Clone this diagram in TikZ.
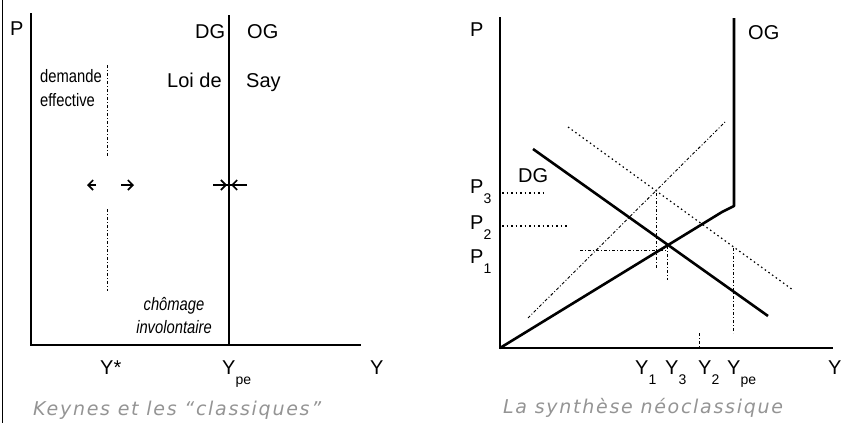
\documentclass[tikz,border=0pt]{standalone}
\usepackage{fontspec}
\setmainfont{Liberation Sans}
\newfontfamily\narrowfont[FakeStretch=0.82]{Liberation Sans}
\newfontfamily\capfont[LetterSpace=9]{DejaVu Sans}
\usetikzlibrary{arrows.meta}

\newcommand{\idx}[2]{#1\raisebox{-0.5em}{\fontsize{14}{14}\selectfont #2}}

\begin{document}
\begin{tikzpicture}[
        x=1pt,
        y=-1pt,
        frame/.style={line width=1.2pt},
        axis/.style={line width=2pt},
        curve/.style={line width=2.6pt, line join=round},
        guide/.style={line width=0.9pt, dash pattern=on 3pt off 2pt on 1pt off 2pt},
        dots/.style={line width=1.2pt, dash pattern=on 1.5pt off 3pt},
        lab/.style={font=\fontsize{20}{22}\selectfont, inner sep=0pt},
        note/.style={font=\narrowfont\fontsize{18}{24}\selectfont, inner sep=0pt},
        caption/.style={font=\capfont\itshape\fontsize{19}{22}\selectfont, text=black!42, inner sep=0pt},
        push/.style={->, line width=1.6pt},
        >={Straight Barb[length=5pt,width=10pt]}
    ]
        \useasboundingbox (0,0) rectangle (845,423);
        \draw[frame] (2.5,0) -- (2.5,423);

        % Keynes et les classiques
        \coordinate (o1) at (31,345);
        \coordinate (p1top) at (31,13);
        \coordinate (y1end) at (361,345);
        \draw[axis] (p1top) -- (o1) -- (y1end);
        \coordinate (say0) at (229,345);
        \coordinate (say1) at (229,15);
        \draw[curve] (say0) -- (say1);
        \coordinate (de0) at (107,65);
        \coordinate (de1) at (107,157);
        \coordinate (de2) at (107,209);
        \coordinate (de3) at (107,291);
        \draw[guide] (de0) -- (de1);
        \draw[guide] (de2) -- (de3);
        \draw[push] (96,185) -- (87,185);
        \draw[push] (121,185) -- (134,185);
        \draw[line width=1.2pt] (213,185) -- (247,185);
        \draw[push] (213,185) -- (227,185);
        \draw[push] (247,185) -- (231,185);

        \node[lab, anchor=base west] (pa) at (10,35) {P};
        \node[lab, anchor=base west] (dga) at (195,38) {DG};
        \node[lab, anchor=base west] (oga) at (247,38) {OG};
        \node[lab, anchor=base west] (loi) at (167,87) {Loi de};
        \node[lab, anchor=base west] (say) at (246,87) {Say};
        \node[note, anchor=north west, align=left] (demande) at (40,69) {demande\\effective};
        \node[note, anchor=north, align=center, font=\narrowfont\itshape\fontsize{18}{23}\selectfont] (chomage) at (174,297) {chômage\\involontaire};
        \node[lab, anchor=base west] (ystar) at (100,374) {Y*};
        \node[lab, anchor=base west] (ypea) at (222,374) {\idx{Y}{pe}};
        \node[lab, anchor=base west] (ya) at (370,374) {Y};
        \node[caption, anchor=base west] (capa) at (33,415) {Keynes et les “classiques”};

        % La synthese neoclassique
        \coordinate (o2) at (500,348);
        \coordinate (p2top) at (500,17);
        \coordinate (y2end) at (833,348);
        \draw[axis] (p2top) -- (o2) -- (y2end);
        \coordinate (ogk) at (722,212);
        \coordinate (ogb) at (734,206);
        \coordinate (ogt) at (734,18);
        \draw[curve] (o2) -- (ogk) -- (ogb) -- (ogt);
        \coordinate (dg0) at (533,149);
        \coordinate (dg1) at (768,316);
        \draw[curve] (dg0) -- (dg1);
        \coordinate (dgb0) at (568,127);
        \coordinate (dgb1) at (793,290);
        \draw[dots] (dgb0) -- (dgb1);
        \coordinate (ogc0) at (528,318);
        \coordinate (ogc1) at (725,122);
        \draw[guide] (ogc0) -- (ogc1);

        \draw[dots] (502,193) -- (545,193);
        \draw[dots] (502,226) -- (567,226);
        \draw[guide] (580,250) -- (667,250);
        \draw[guide] (656,193) -- (656,268);
        \draw[guide] (667,246) -- (667,280);
        \draw[guide] (733,248) -- (733,333);
        \draw[guide] (699,333) -- (699,348);

        \node[lab, anchor=base west] (pb) at (470,36) {P};
        \node[lab, anchor=base west] (ogbl) at (748,39) {OG};
        \node[lab, anchor=base west] (dgbl) at (518,182) {DG};
        \node[lab, anchor=base west] (p3) at (470,193) {\idx{P}{3}};
        \node[lab, anchor=base west] (p2) at (470,229) {\idx{P}{2}};
        \node[lab, anchor=base west] (p1) at (470,263) {\idx{P}{1}};
        \node[lab, anchor=base west] (y1) at (635,374) {\idx{Y}{1}};
        \node[lab, anchor=base west] (y3) at (665,374) {\idx{Y}{3}};
        \node[lab, anchor=base west] (y2) at (698,374) {\idx{Y}{2}};
        \node[lab, anchor=base west] (ypeb) at (727,374) {\idx{Y}{pe}};
        \node[lab, anchor=base west] (yb) at (828,374) {Y};
        \node[caption, anchor=base west] (capb) at (503,413) {La synthèse néoclassique};
\end{tikzpicture}
\end{document}
